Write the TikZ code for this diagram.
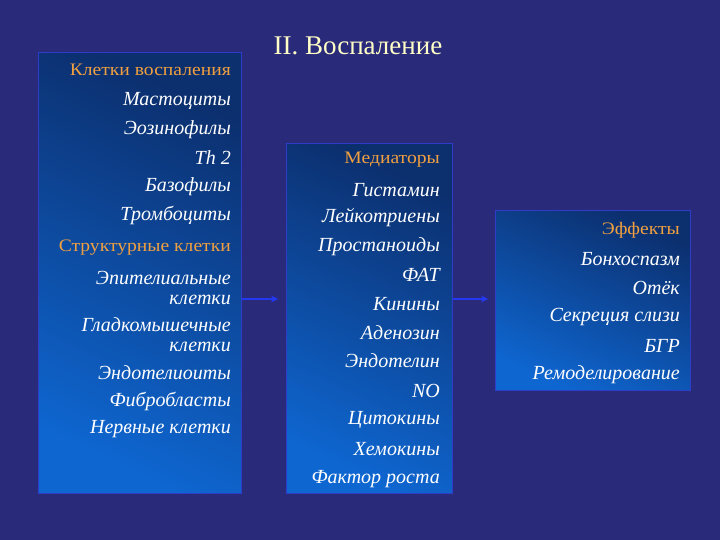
\documentclass[tikz,border=0pt]{standalone}
\usepackage{fontspec}
\setmainfont{Liberation Serif}
\newfontfamily\hdfont{Liberation Serif}[FakeStretch=1.12]
\usetikzlibrary{arrows.meta}
\definecolor{bgc}{HTML}{2A2A7A}
\definecolor{boxtop}{HTML}{0C2F6E}
\definecolor{boxbot}{HTML}{0E66D0}
\definecolor{boxline}{HTML}{2E3CC8}
\definecolor{hdr}{HTML}{F0A040}
\definecolor{ttl}{HTML}{FFFFC8}
\definecolor{arrc}{HTML}{2438F0}
\tikzset{
  panel/.style={draw=boxline, line width=1.2pt, inner sep=0pt, anchor=north west,
    top color=boxtop, bottom color=boxbot, shading angle=-25},
  hd/.style={anchor=east, text=hdr, font=\hdfont\fontsize{17.5}{18}\selectfont, inner sep=0pt},
  it/.style={anchor=east, text=white, font=\fontsize{20}{20}\selectfont\itshape, inner sep=0pt, align=right},
  arr/.style={draw=arrc, line width=1.8pt, -{Stealth[length=7pt,width=7pt]}}
}
\begin{document}
\begin{tikzpicture}[x=1pt,y=-1pt]
\fill[bgc] (0,0) rectangle (720,540);
\useasboundingbox (0,0) rectangle (720,540);
\node[text=ttl, font=\fontsize{27}{28}\selectfont, inner sep=0pt] (title) at (358,46) {II. Воспаление};
% boxes
\node[panel, minimum width=203pt, minimum height=441pt] (b1) at (38,52) {};
\node[panel, minimum width=166pt, minimum height=350pt] (b2) at (286,143) {};
\node[panel, minimum width=195pt, minimum height=180pt] (b3) at (495,210) {};
% box 1
\node[hd] (h1) at (231,70) {Клетки воспаления};
\node[it] (t11) at (231,101) {Мастоциты};
\node[it] (t12) at (231,130) {Эозинофилы};
\node[it] (t13) at (231,158) {Th 2};
\node[it] (t14) at (231,187) {Базофилы};
\node[it] (t15) at (231,215) {Тромбоциты};
\node[hd] (h2) at (231,248) {Структурные клетки};
\node[it] (t16) at (231,288) {Эпителиальные\\клетки};
\node[it] (t17) at (231,335) {Гладкомышечные\\клетки};
\node[it] (t18) at (231,373) {Эндотелиоиты};
\node[it] (t19) at (231,401) {Фибробласты};
\node[it] (t1a) at (231,429) {Нервные клетки};
% box 2
\node[hd] (h3) at (440,160) {Медиаторы};
\node[it] (t21) at (440,190) {Гистамин};
\node[it] (t22) at (440,218) {Лейкотриены};
\node[it] (t23) at (440,247) {Простаноиды};
\node[it] (t24) at (440,275) {ФАТ};
\node[it] (t25) at (440,304) {Кинины};
\node[it] (t26) at (440,333) {Аденозин};
\node[it] (t27) at (440,361) {Эндотелин};
\node[it] (t28) at (440,391) {NO};
\node[it] (t29) at (440,420) {Цитокины};
\node[it] (t2a) at (440,449) {Хемокины};
\node[it] (t2b) at (440,479) {Фактор роста};
% box 3
\node[hd] (h4) at (680,230) {Эффекты};
\node[it] (t31) at (680,259) {Бонхоспазм};
\node[it] (t32) at (680,288) {Отёк};
\node[it] (t33) at (680,317) {Секреция слизи};
\node[it] (t34) at (680,346) {БГР};
\node[it] (t35) at (680,375) {Ремоделирование};
% arrows
\coordinate (a1) at (278,299);
\coordinate (a2) at (488,299);
\draw[arr] (b1.east |- a1) -- (a1);
\draw[arr] (b2.east |- a2) -- (a2);
\end{tikzpicture}
\end{document}
